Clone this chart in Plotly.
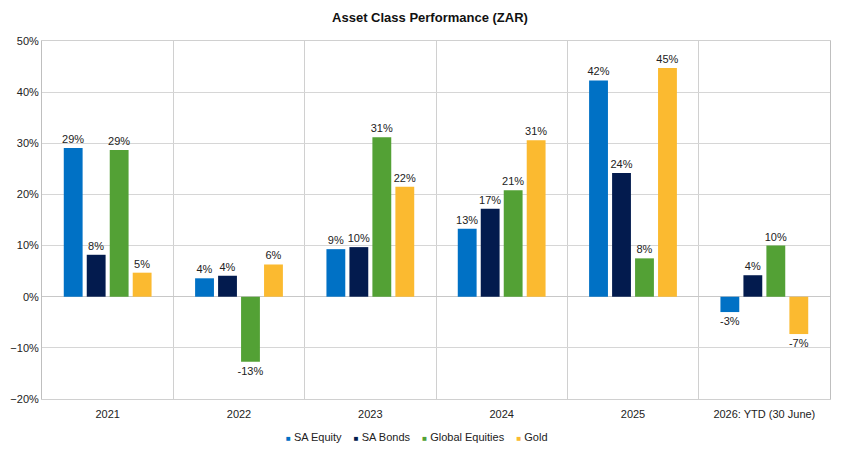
import plotly.graph_objects as go

# Chart data
categories = ['2021', '2022', '2023', '2024', '2025', '2026: YTD (30 June)']
sa_equity = [29.1, 3.6, 9.3, 13.3, 42.3, -3.0]
sa_bonds = [8.2, 4.1, 9.7, 17.2, 24.2, 4.2]
global_equities = [28.7, -12.7, 31.2, 20.8, 7.5, 10.0]
gold = [4.7, 6.3, 21.5, 30.6, 44.7, -7.3]

series = [
    ('SA Equity', sa_equity, '#0071C5'),
    ('SA Bonds', sa_bonds, '#031B4E'),
    ('Global Equities', global_equities, '#53A135'),
    ('Gold', gold, '#FBBA30'),
]

fig = go.Figure()
for name, values, color in series:
    fig.add_trace(go.Bar(
        name=name,
        x=categories,
        y=values,
        marker=dict(color=color, line=dict(width=0)),
        text=[f'{round(v):d}%' for v in values],
        textposition='outside',
        constraintext='none',
        textfont=dict(size=11, color='#222222'),
        cliponaxis=False,
        showlegend=False,
    ))

# compact Excel-style legend: small squares tight against the labels
legend_text = '&nbsp;&nbsp;&nbsp;&nbsp;'.join(
    f"<span style='color:{color};font-size:8px'>■</span> {name}" for name, _, color in series
)
fig.add_annotation(
    text=legend_text, showarrow=False,
    xref='paper', yref='paper', x=0.476, y=-0.105,
    xanchor='center', yanchor='middle',
    font=dict(size=11, color='#222222'),
)

# page body adds an 8px offset, so margins are shifted to compensate
fig.update_layout(
    title=dict(text='<b>Asset Class Performance (ZAR)</b>', x=0.5, xanchor='center',
               y=0.98, yanchor='middle', font=dict(size=13, color='#111111')),
    width=844,
    height=455,
    margin=dict(l=34, r=22, t=33, b=64, autoexpand=False),
    font=dict(family='Liberation Sans, Arial, sans-serif', size=11, color='#222222'),
    paper_bgcolor='white',
    plot_bgcolor='white',
    barmode='group',
    bargap=0.3,
    bargroupgap=0.18,
)

fig.update_xaxes(
    type='category',
    tickson='boundaries',
    showgrid=True,
    gridcolor='#D0D0D0',
    showline=True,
    linecolor='#D0D0D0',
    mirror=True,
    ticks='',
    ticklabelstandoff=5,
    tickfont=dict(size=11),
)

fig.update_yaxes(
    range=[-20, 50],
    dtick=10,
    ticksuffix='%',
    showgrid=True,
    gridcolor='#D6D6D6',
    zeroline=True,
    zerolinecolor='#C8C8C8',
    zerolinewidth=1,
    showline=True,
    linecolor='#BFBFBF',
    mirror=True,
    tickfont=dict(size=11),
)

fig.write_html('out.html')
